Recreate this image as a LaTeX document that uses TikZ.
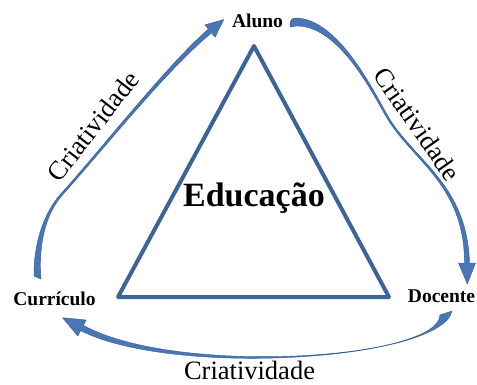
\documentclass[tikz,border=0pt]{standalone}
\usepackage{fontspec}
\setmainfont{Liberation Serif}
\definecolor{triblue}{RGB}{60,100,155}
\definecolor{arrfill}{RGB}{72,118,182}
\definecolor{arredge}{RGB}{52,90,145}
\begin{document}
\begin{tikzpicture}[x=1pt,y=-1pt,
  lbl/.style={font=\bfseries\fontsize{19.5}{22}\selectfont, inner sep=0pt, anchor=base},
  crt/.style={font=\fontsize{26.5}{30}\selectfont, inner sep=0pt},
  arr/.style={fill=arrfill, draw=arredge, line width=0.4pt, line join=round},
  tri/.style={draw=triblue, line width=4pt, line join=round}]
\useasboundingbox (0,0) rectangle (477,385);
% triangle
\coordinate (ta) at (254,46);
\coordinate (tl) at (118,297);
\coordinate (tr) at (389,297);
\draw[tri] (ta) -- (tl) -- (tr) -- cycle;
% labels
\node[lbl] (aluno) at (257.5,28) {Aluno};
\node[lbl] (curr) at (54.5,305) {Currículo};
\node[lbl] (doc) at (441.5,302) {Docente};
\node[font=\bfseries\fontsize{34}{38}\selectfont, inner sep=0pt, anchor=base] (edu) at (254,207) {Educação};
\node[crt, anchor=base] (c3) at (249.5,379) {Criatividade};
\node[crt, rotate=52] (c1) at (93,126) {Criatividade};
\node[crt, rotate=-55] (c2) at (417,124) {Criatividade};
% left arrow: Curriculo -> Aluno
\path[arr] (34,276) .. controls (33.5,245) and (43.11,213.2) .. (61.26,193.33)
 .. controls (99.33,151.4) and (167.04,64.85) .. (208.4,29.08)
 -- (204.88,24.86) -- (223.8,19.5) -- (215.12,37.14) -- (211.6,32.92)
 .. controls (168.96,67.15) and (100.67,152.6) .. (62.74,194.67)
 .. controls (44.89,214.8) and (38.5,245) .. (41,279) -- cycle;
% right arrow: Aluno -> Docente
\path[arr] (296,18) .. controls (340,19) and (375.96,96.08) .. (388.77,117.54)
 .. controls (414.57,160.44) and (467.5,185) .. (469.5,263)
 -- (475.5,263) -- (467.3,284) -- (458.5,263) -- (464.5,263)
 .. controls (464.5,185) and (413.03,161.36) .. (387.23,118.46)
 .. controls (374.24,97.12) and (340,25) .. (296,26)
 .. controls (292,26) and (290,29) .. (290,25)
 .. controls (290,20) and (292,18) .. (296,18) -- cycle;
% bottom arrow: Docente -> Curriculo
\path[arr] (452,311) .. controls (441.49,360.19) and (174.53,377.89) .. (80.6,330.66)
 -- (77.8,335.97) -- (62.5,317.7) -- (86.19,320.04) -- (83.4,325.35)
 .. controls (175.47,376.11) and (438.51,359.81) .. (440,315) -- cycle;
\end{tikzpicture}
\end{document}
